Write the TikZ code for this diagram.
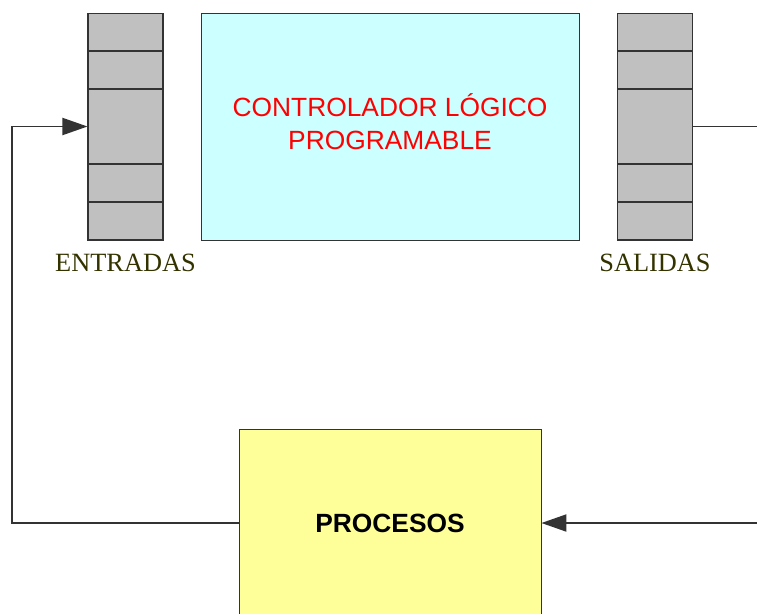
\documentclass[tikz,border=0pt]{standalone}
\usepackage{fontspec}
\setmainfont{Liberation Serif}
\newfontfamily\rotulo{Liberation Sans}
\usepackage{xcolor}
\usepackage{tikz}
\usetikzlibrary{arrows.meta,positioning}
\definecolor{cian}{RGB}{204, 255, 255}
\definecolor{amarillo}{RGB}{255, 255, 153}
\definecolor{gris}{RGB}{192, 192, 192}
\definecolor{oscuro}{RGB}{51, 51, 51}
\definecolor{oliva}{RGB}{51, 51, 0}

\tikzset{
  registro/.style={draw=oscuro, fill=gris, line width=0.6pt, minimum width=1.5cm, minimum height=4.54cm, inner sep=0pt},
  divisor/.style={draw=oscuro, line width=0.9pt},
  etiqueta/.style={oliva, font=\fontsize{15}{18}\selectfont, inner sep=0pt},
  conector/.style={draw=oscuro, line width=1.1pt},
  flecha/.style={conector, -{Triangle[length=0.5cm, width=0.34cm]}}
}

\begin{document}
\begin{tikzpicture}[x=0.02cm, y=-0.02cm]
  \clip (0,0) rectangle (757,613);

  % input and output registers
  \node[registro] (entradas) at (125.5,126.5) {};
  \node[registro] (salidas) at (655,126.5) {};
  \foreach \col in {entradas,salidas}
    \foreach \y in {51,89,164,202}
      \draw[divisor] (\col.west |- 0,\y) -- (\col.east |- 0,\y);
  \node[etiqueta, below=0.26cm of entradas] (rotent) {ENTRADAS};
  \node[etiqueta, below=0.26cm of salidas] (rotsal) {SALIDAS};

  % PLC box
  \node[draw=oscuro, fill=cian, line width=0.5pt, minimum width=7.56cm, minimum height=4.54cm,
        align=center, text=red, text depth=5.5pt, font=\rotulo\fontsize{15}{18.5}\selectfont] (plc) at (390,126.5)
        {CONTROLADOR LÓGICO\\PROGRAMABLE};

  % process box
  \node[draw=oscuro, fill=amarillo, line width=0.5pt, minimum width=6.04cm, minimum height=3.76cm,
        font=\rotulo\bfseries\fontsize{15}{18}\selectfont] (procesos) at (390,523) {PROCESOS};

  % control loop
  \coordinate (retorno) at (12,523);
  \coordinate (ida) at (790,127);
  \draw[flecha] (procesos.west) -- (retorno) |- (entradas.west);
  \draw[flecha] (salidas.east) -| (ida) |- (procesos.east);
\end{tikzpicture}
\end{document}
